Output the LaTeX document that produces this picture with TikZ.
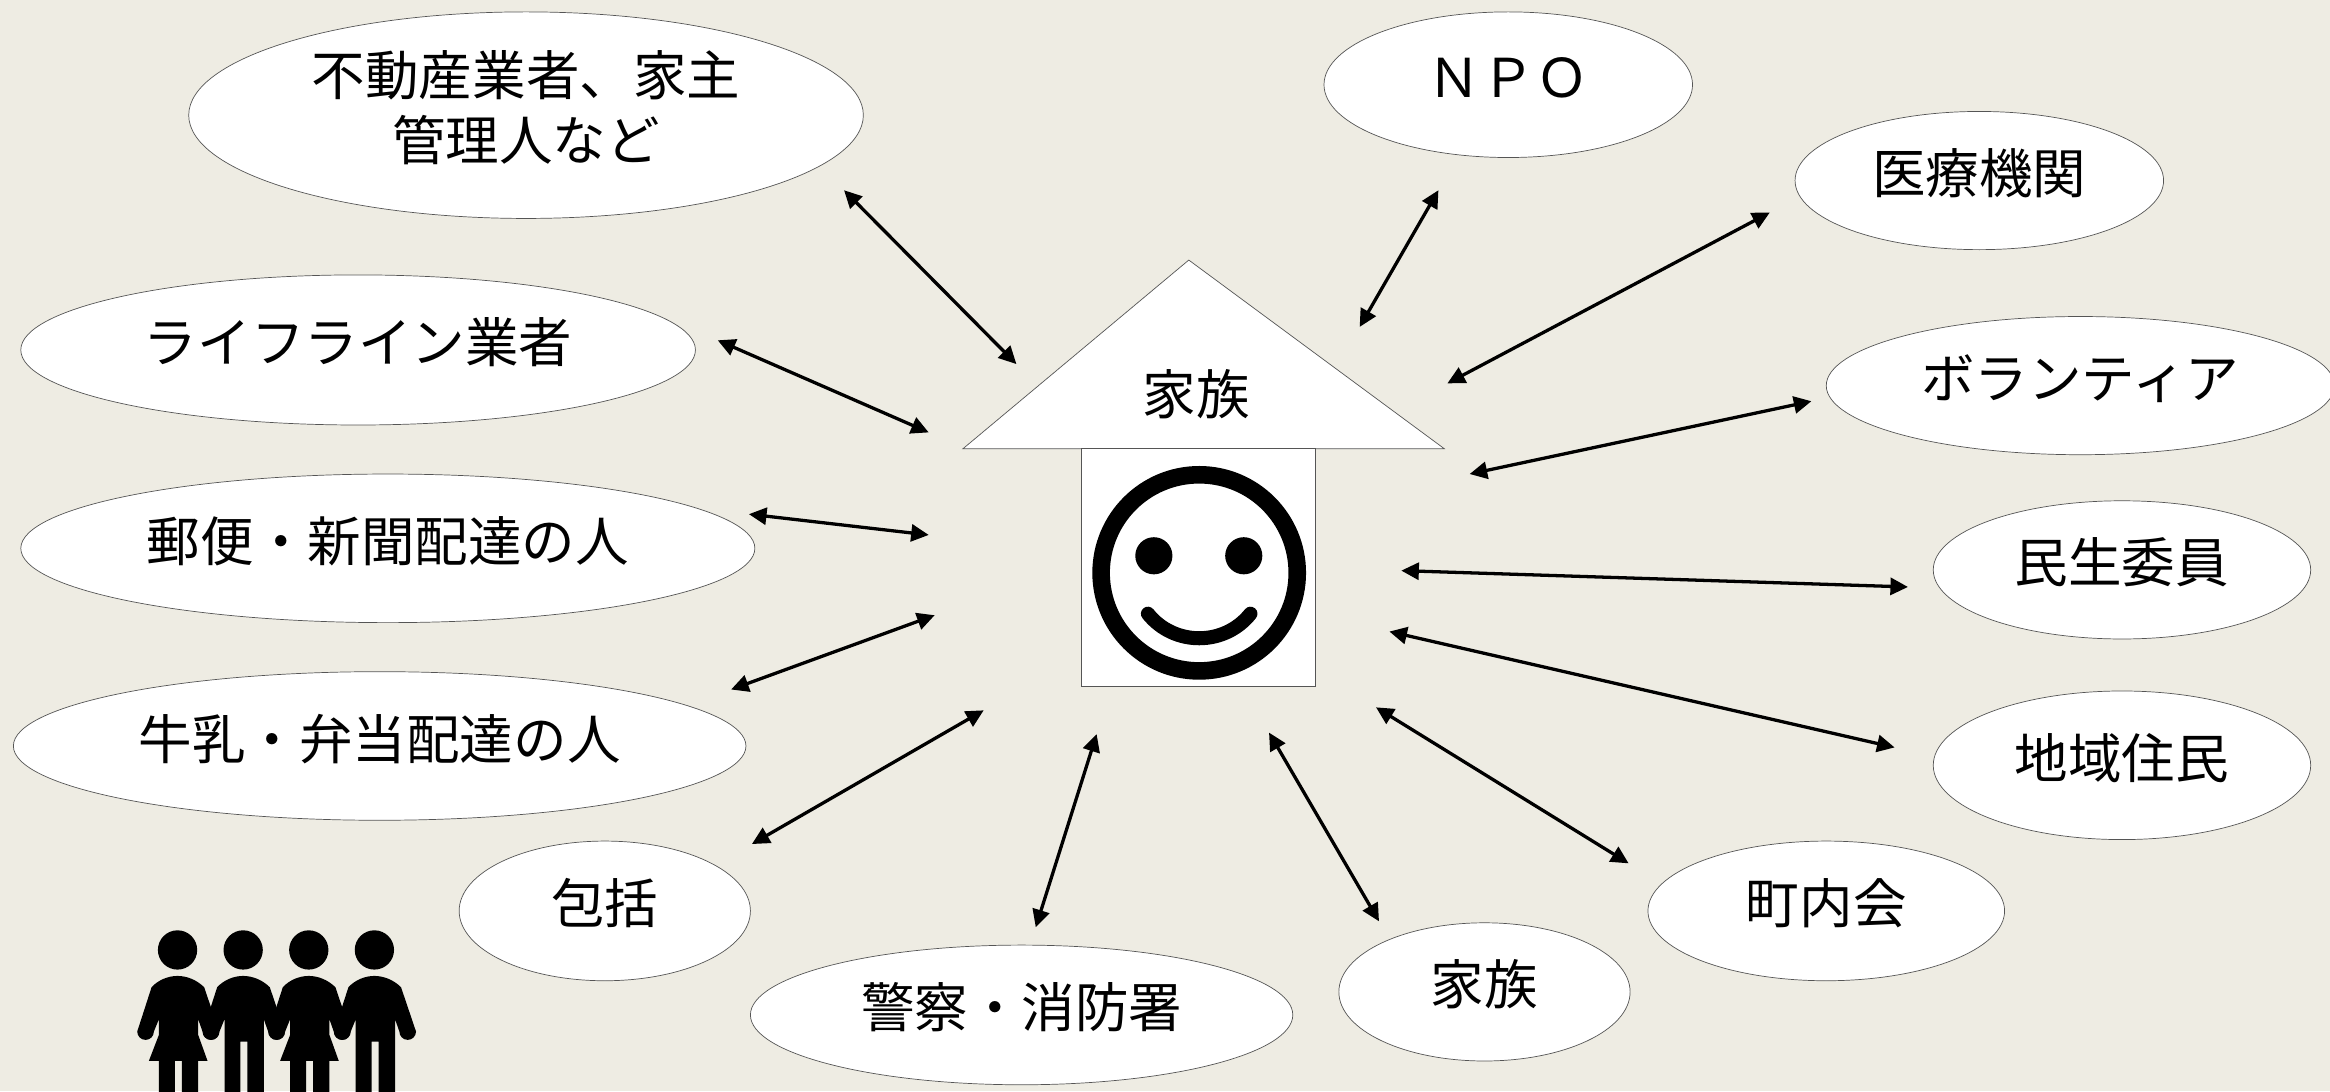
\documentclass[tikz,border=0pt]{standalone}
\usepackage{fontspec}
\setmainfont{Noto Sans CJK JP}
\usetikzlibrary{shapes.geometric,arrows.meta}
\definecolor{bgc}{HTML}{EEECE3}
\definecolor{edgec}{HTML}{555555}
\tikzset{
  bubble/.style={ellipse,draw=edgec,fill=white,line width=0.6pt,inner sep=0pt,outer sep=0pt,font=\fontsize{45.7}{54.3}\selectfont,align=center},
  link/.style={{Triangle[length=15pt,width=14.5pt]}-{Triangle[length=15pt,width=14.5pt]},line width=2.8pt,black},
  wall/.style={draw=edgec,fill=white,line width=0.6pt},
  ink/.style={fill=black,draw=none}
}
% name, left, right, top, bottom, text
\newcommand\bub[6]{\node[bubble,minimum width={(#3-#2)*0.04458cm},minimum height={(#5-#4)*0.04458cm}] (#1) at ({(#2+#3)/2},{(#4+#5)/2}) {\raisebox{4pt}{\begin{tabular}{@{}c@{}}#6\end{tabular}}};}
\newcommand\lnk[5]{\coordinate (#1a) at (#2,#3); \coordinate (#1b) at (#4,#5); \draw[link] (#1a) -- (#1b);}
\newcommand\woman[1]{\begin{scope}[xshift=#1*0.01cm]
  \fill[ink] (0,210) circle (59);
  \fill[ink] (-78,322) .. controls (-58,300) and (-28,288) .. (0,288) .. controls (28,288) and (58,300) .. (80,322) -- (125,455) arc[start angle=0,end angle=180,radius=25] -- (62,418) -- (62,465) -- (90,543) -- (62,543) -- (62,640) -- (13,640) -- (13,543) -- (-8,543) -- (-8,640) -- (-56,640) -- (-56,543) -- (-86,543) -- (-56,465) -- (-56,418) -- (-71,455) arc[start angle=0,end angle=180,radius=25] -- cycle;
\end{scope}}
\newcommand\man[1]{\begin{scope}[xshift=#1*0.01cm]
  \fill[ink] (0,210) circle (59);
  \fill[ink] (-78,322) .. controls (-58,300) and (-28,288) .. (0,288) .. controls (28,288) and (58,300) .. (80,322) -- (125,455) arc[start angle=0,end angle=180,radius=25] -- (62,418) -- (62,640) -- (13,640) -- (13,485) -- (-8,485) -- (-8,640) -- (-56,640) -- (-56,418) -- (-71,455) arc[start angle=0,end angle=180,radius=25] -- cycle;
\end{scope}}
\begin{document}
\begin{tikzpicture}[x=0.04458cm,y=-0.04458cm]
\fill[bgc] (0,0) rectangle (1568,734.2);
\useasboundingbox (0,0) rectangle (1568,734.2);
\bub{fudosan}{127}{581}{8}{147}{不動産業者、家主\\管理人など}
\bub{lifeline}{14}{468}{185}{286}{ライフライン業者}
\bub{yubin}{14}{508}{319}{419}{郵便・新聞配達の人}
\bub{gyunyu}{9}{502}{452}{552}{牛乳・弁当配達の人}
\bub{hokatsu}{309}{505}{566}{660}{包括}
\bub{keisatsu}{505}{870}{636}{730}{警察・消防署}
\bub{kazoku}{901}{1097}{621}{714}{家族}
\bub{chonai}{1109}{1349}{566}{660}{町内会}
\bub{chiiki}{1301}{1555}{465}{565}{地域住民}
\bub{minsei}{1301}{1555}{337}{430}{民生委員}
\bub{vol}{1229}{1571}{213}{306}{ボランティア}
\bub{iryo}{1208}{1456}{75}{168}{医療機関}
\bub{npo}{891}{1139}{8}{106}{ＮＰＯ}
% house
\coordinate (apex) at (800,175);
\coordinate (eaveL) at (648,302);
\coordinate (eaveR) at (972,302);
\draw[wall] (apex) -- (eaveR) -- (eaveL) -- cycle;
\node[wall,inner sep=0pt,outer sep=0pt,minimum width={157*0.04458cm},minimum height={160*0.04458cm}] (body) at (806.5,382) {};
\node[font=\fontsize{45.7}{54}\selectfont,inner sep=0pt] (roof) at (805,265.5) {家族};
% face
\coordinate (face) at (807,385.5);
\draw[line width=15pt,black] (face) circle (66);
\fill[ink] (776.5,374) circle (12.5);
\fill[ink] (837,374) circle (12.5);
\draw[line width=12pt,line cap=round,black] (772.5,413) .. controls (790,435) and (824,435) .. (841.5,413);
% connectors
\lnk{a}{568}{128}{684}{245}
\lnk{b}{483}{229}{625}{291}
\lnk{c}{504}{346}{625}{360}
\lnk{d}{492}{464}{629}{414}
\lnk{e}{506}{568}{662}{478}
\lnk{f}{697}{624}{738}{494}
\lnk{g}{928}{620}{854}{493}
\lnk{h}{1096}{581}{926}{476}
\lnk{i}{1275}{503}{935}{425}
\lnk{j}{1284}{395}{943}{384}
\lnk{k}{989}{319}{1219}{270}
\lnk{l}{974}{258}{1191}{143}
\lnk{m}{915}{220}{968}{128}
% people
\begin{scope}[shift={(0,592.2)},x=0.01cm,y=-0.01cm]
\woman{533}
\man{730}
\woman{927}
\man{1124}
\end{scope}
\end{tikzpicture}
\end{document}
